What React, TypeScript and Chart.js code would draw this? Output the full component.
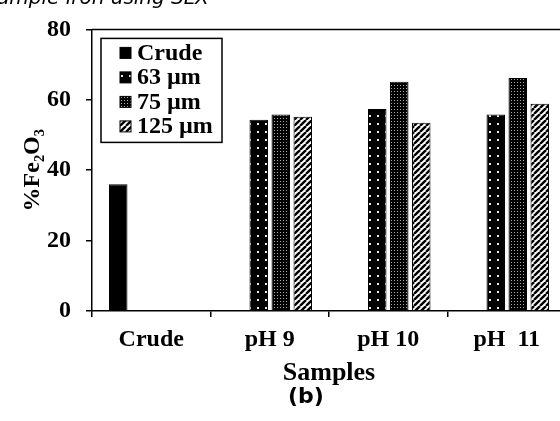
import React, { useEffect, useRef } from 'react';
import { Chart, registerables } from 'chart.js';

Chart.register(...registerables);

const categories = ['Crude', 'pH 9', 'pH 10', 'pH  11'];
const seriesNames = ['Crude', '63 µm', '75 µm', '125 µm'];
const crudeValues = [36, null, null, null];
const um63Values = [null, 54.3, 57.4, 55.8];
const um75Values = [null, 55.8, 65.1, 66.2];
const um125Values = [null, 55.2, 53.5, 58.9];
const yTickValues = [0, 20, 40, 60, 80];
const yTitle = '%Fe₂O₃';
const xTitle = 'Samples';
const captionTop = 'ample iron using SLX';
const captionBottom = '(b)';

function makePattern(kind: string): CanvasPattern | string {
  const c = document.createElement('canvas');
  const g = c.getContext('2d')!;
  if (kind === 'dots') {
    c.width = 8; c.height = 8;
    g.fillStyle = '#000'; g.fillRect(0, 0, 8, 8);
    g.fillStyle = '#e8e8e8'; g.fillRect(1, 3, 2, 2);
  } else if (kind === 'grid') {
    c.width = 3; c.height = 3;
    g.fillStyle = '#000'; g.fillRect(0, 0, 3, 3);
    g.fillStyle = '#a8a8a8'; g.fillRect(1, 1, 1, 1);
  } else {
    c.width = 6; c.height = 6;
    g.fillStyle = '#fff'; g.fillRect(0, 0, 6, 6);
    g.strokeStyle = '#000'; g.lineWidth = 2.4;
    for (let i = -1; i <= 1; i++) {
      g.beginPath(); g.moveTo(i * 6, 6); g.lineTo(i * 6 + 6, 0); g.stroke();
    }
  }
  return g.createPattern(c, 'repeat') || '#000';
}

const frameTop = {
  id: 'frameTop',
  afterDraw(chart: any) {
    const { ctx, chartArea } = chart;
    ctx.save();
    ctx.strokeStyle = '#000';
    ctx.lineWidth = 1.5;
    ctx.beginPath();
    ctx.moveTo(chartArea.left, chartArea.top);
    ctx.lineTo(chartArea.right, chartArea.top);
    ctx.stroke();
    ctx.restore();
  },
};

const boxLegend = {
  id: 'boxLegend',
  afterDraw(chart: any) {
    const { ctx, chartArea } = chart;
    const x = chartArea.left + 9;
    const y = chartArea.top + 9;
    const w = 121;
    const h = 104;
    ctx.save();
    ctx.fillStyle = '#fff';
    ctx.fillRect(x, y, w, h);
    ctx.strokeStyle = '#000';
    ctx.lineWidth = 1.5;
    ctx.strokeRect(x, y, w, h);
    ctx.font = 'bold 24px "Liberation Serif"';
    ctx.textBaseline = 'middle';
    chart.data.datasets.forEach((ds: any, i: number) => {
      const cy = y + 14 + i * 24.5;
      ctx.fillStyle = ds.backgroundColor;
      ctx.fillRect(x + 19, cy - 5, 11, 11);
      ctx.strokeStyle = '#000';
      ctx.lineWidth = 1;
      ctx.strokeRect(x + 19, cy - 5, 11, 11);
      ctx.fillStyle = '#000';
      ctx.fillText(ds.label, x + 36, cy + 1);
    });
    ctx.restore();
  },
};

export default function App() {
  const ref = useRef<HTMLCanvasElement>(null);
  useEffect(() => {
    const canvas = ref.current!;
    const fills = ['#000', makePattern('dots'), makePattern('grid'), makePattern('diag')];
    const values = [crudeValues, um63Values, um75Values, um125Values];
    const tickFont = { family: '"Liberation Serif", serif', size: 24, weight: 'bold' as const };
    const chart = new Chart(canvas, {
      type: 'bar',
      data: {
        labels: categories,
        datasets: seriesNames.map((name, i) => ({
          label: name,
          data: values[i] as any,
          backgroundColor: fills[i] as any,
          borderColor: '#000',
          borderWidth: 1,
          categoryPercentage: 0.743,
          barPercentage: 0.84,
        })),
      },
      options: {
        animation: false,
        responsive: false,
        devicePixelRatio: 1,
        layout: { padding: { left: 0, top: 23, right: 14, bottom: 0 } },
        plugins: { legend: { display: false }, tooltip: { enabled: false } },
        scales: {
          x: {
            afterFit: (s: any) => { s.height = 110; },
            grid: { drawOnChartArea: false, drawTicks: true, tickLength: 6, color: '#000', lineWidth: 1.5 },
            border: { display: true, color: '#000', width: 1.5 },
            ticks: { color: '#000', font: tickFont, padding: 8, maxRotation: 0 },
            title: {
              display: true, text: xTitle, color: '#000',
              font: { family: '"Liberation Serif", serif', size: 26, weight: 'bold' },
              padding: { top: 0, bottom: 32 },
            },
          },
          y: {
            min: 0, max: 80,
            afterFit: (s: any) => { s.width = 92; },
            afterBuildTicks: (s: any) => { s.ticks = yTickValues.map((v) => ({ value: v })); },
            grid: { drawOnChartArea: false, drawTicks: true, tickLength: 6, color: '#000', lineWidth: 1.5 },
            border: { display: true, color: '#000', width: 1.5 },
            ticks: { color: '#000', font: tickFont, padding: 15 },
            title: {
              display: true, text: yTitle, color: '#000',
              font: { family: '"Liberation Serif", serif', size: 24, weight: 'bold' },
              padding: { top: 18, bottom: 0 },
            },
          },
        },
      },
      plugins: [frameTop, boxLegend],
    });
    return () => chart.destroy();
  }, []);

  return (
    <div style={{ position: 'fixed', left: 0, top: 0, width: 560, height: 421, overflow: 'hidden', background: '#fff' }}>
      <canvas ref={ref} width={580} height={421} style={{ position: 'absolute', left: 0, top: 0, width: 580, height: 421 }} />
      <div style={{ position: 'absolute', left: -3, top: -13, font: 'italic 20px "DejaVu Sans"', lineHeight: '20px', whiteSpace: 'nowrap', color: '#000' }}>
        {captionTop}
      </div>
      <div style={{ position: 'absolute', left: 276, top: 383, width: 60, textAlign: 'center', font: 'bold 22px "DejaVu Sans"', lineHeight: '26px', whiteSpace: 'nowrap', color: '#000' }}>
        {captionBottom}
      </div>
    </div>
  );
}
